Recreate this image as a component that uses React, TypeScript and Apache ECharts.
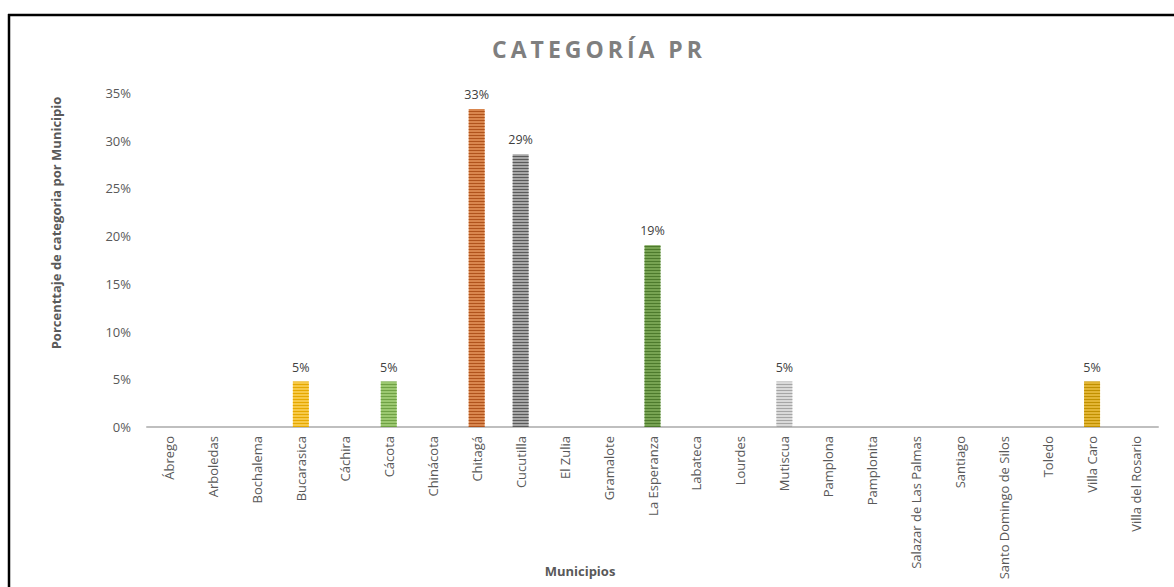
import React, { useEffect, useRef } from "react";
import * as echarts from "echarts";

const categories = [
  "Ábrego", "Arboledas", "Bochalema", "Bucarasica", "Cáchira", "Cácota", "Chinácota",
  "Chitagá", "Cucutilla", "El Zulia", "Gramalote", "La Esperanza", "Labateca", "Lourdes",
  "Mutiscua", "Pamplona", "Pamplonita", "Salazar de Las Palmas", "Santiago",
  "Santo Domingo de Silos", "Toledo", "Villa Caro", "Villa del Rosario",
];
// share of category PR per municipality (fractions)
const values = [
  0, 0, 0, 0.0476, 0, 0.0476, 0, 0.3333, 0.2857, 0, 0, 0.1905, 0, 0, 0.0476, 0, 0, 0, 0, 0, 0, 0.0476, 0,
];
const baseColors = [
  "#999", "#999", "#999", "#F7C948", "#999", "#9BC870", "#999", "#D9864E", "#A6A6A6", "#999", "#999",
  "#77A352", "#999", "#999", "#D9D9D9", "#999", "#999", "#999", "#999", "#999", "#999", "#E2B534", "#999",
];
const stripeColors = [
  "#666", "#666", "#666", "#E5A800", "#666", "#6FA144", "#666", "#B0531C", "#5A5A5A", "#666", "#666",
  "#4D7A2C", "#666", "#666", "#A6A6A6", "#666", "#666", "#666", "#666", "#666", "#666", "#C09000", "#666",
];
const yTicks = [0, 0.05, 0.1, 0.15, 0.2, 0.25, 0.3, 0.35];
const TITLE = "CATEGORÍA PR";

const FONT = "'Open Sans', sans-serif";

export default function App() {
  const ref = useRef<HTMLDivElement>(null);
  useEffect(() => {
    if (!ref.current) return;
    const chart = echarts.init(ref.current, undefined, { renderer: "svg" });
    chart.setOption({
      animation: false,
      backgroundColor: "#fff",
      textStyle: { fontFamily: FONT },
      title: {
        text: TITLE,
        left: 594,
        top: 32,
        textAlign: "center",
        textStyle: { fontFamily: FONT, fontSize: 23, fontWeight: "bold", color: "#7F7F7F" },
      },
      graphic: [
        { type: "line", shape: { x1: 8, y1: 15, x2: 1174, y2: 15 }, style: { stroke: "#000", lineWidth: 2.5 } },
        { type: "line", shape: { x1: 9, y1: 14, x2: 9, y2: 587 }, style: { stroke: "#000", lineWidth: 2.5 } },
        {
          type: "text",
          x: 56,
          y: 223,
          rotation: Math.PI / 2,
          style: {
            text: "Porcenttaje de categoria por Municipio",
            fontFamily: FONT,
            fontSize: 13,
            fontWeight: "bold",
            fill: "#595959",
            align: "center",
            verticalAlign: "middle",
          },
        },
        {
          type: "text",
          x: 580,
          y: 571,
          style: {
            text: "Municipios",
            fontFamily: FONT,
            fontSize: 13,
            fontWeight: "bold",
            fill: "#595959",
            align: "center",
            verticalAlign: "middle",
          },
        },
      ],
      grid: { left: 147, right: 16, top: 93, bottom: 160, containLabel: false },
      xAxis: {
        type: "category",
        data: categories,
        axisLine: { lineStyle: { color: "#BFBFBF", width: 2 } },
        axisTick: { show: false },
        axisLabel: { rotate: 90, interval: 0, margin: 9, color: "#595959", fontSize: 13, fontFamily: FONT },
      },
      yAxis: {
        type: "value",
        min: 0,
        max: 0.35,
        interval: 0.05,
        splitLine: { show: false },
        axisLine: { show: false },
        axisLabel: {
          color: "#595959",
          fontSize: 13,
          margin: 16,
          fontFamily: FONT,
          formatter: (v: number) => (yTicks.some((t) => Math.abs(t - v) < 1e-9) ? `${Math.round(v * 100)}%` : ""),
        },
      },
      series: [
        {
          type: "bar",
          barWidth: 16,
          data: values.map((v, i) => ({
            value: v,
            itemStyle: {
              color: baseColors[i],
              decal: {
                symbol: "rect",
                symbolSize: 1,
                dashArrayX: [1, 0],
                dashArrayY: [1, 2],
                color: stripeColors[i],
                rotation: 0,
              },
            },
            label: { show: v > 0 },
          })),
          label: {
            position: "top",
            distance: 8,
            color: "#404040",
            fontSize: 12.5,
            fontFamily: FONT,
            formatter: (p: any) => `${Math.round(p.value * 100)}%`,
          },
        },
      ],
    });
    // widen the title's letter spacing like the original
    ref.current.querySelectorAll("text").forEach((t) => {
      if (t.textContent === TITLE) {
        (t as SVGTextElement).style.letterSpacing = "4px";
      }
    });
    return () => chart.dispose();
  }, []);
  return <div ref={ref} style={{ position: "absolute", left: 0, top: 0, width: 1174, height: 587 }} />;
}
